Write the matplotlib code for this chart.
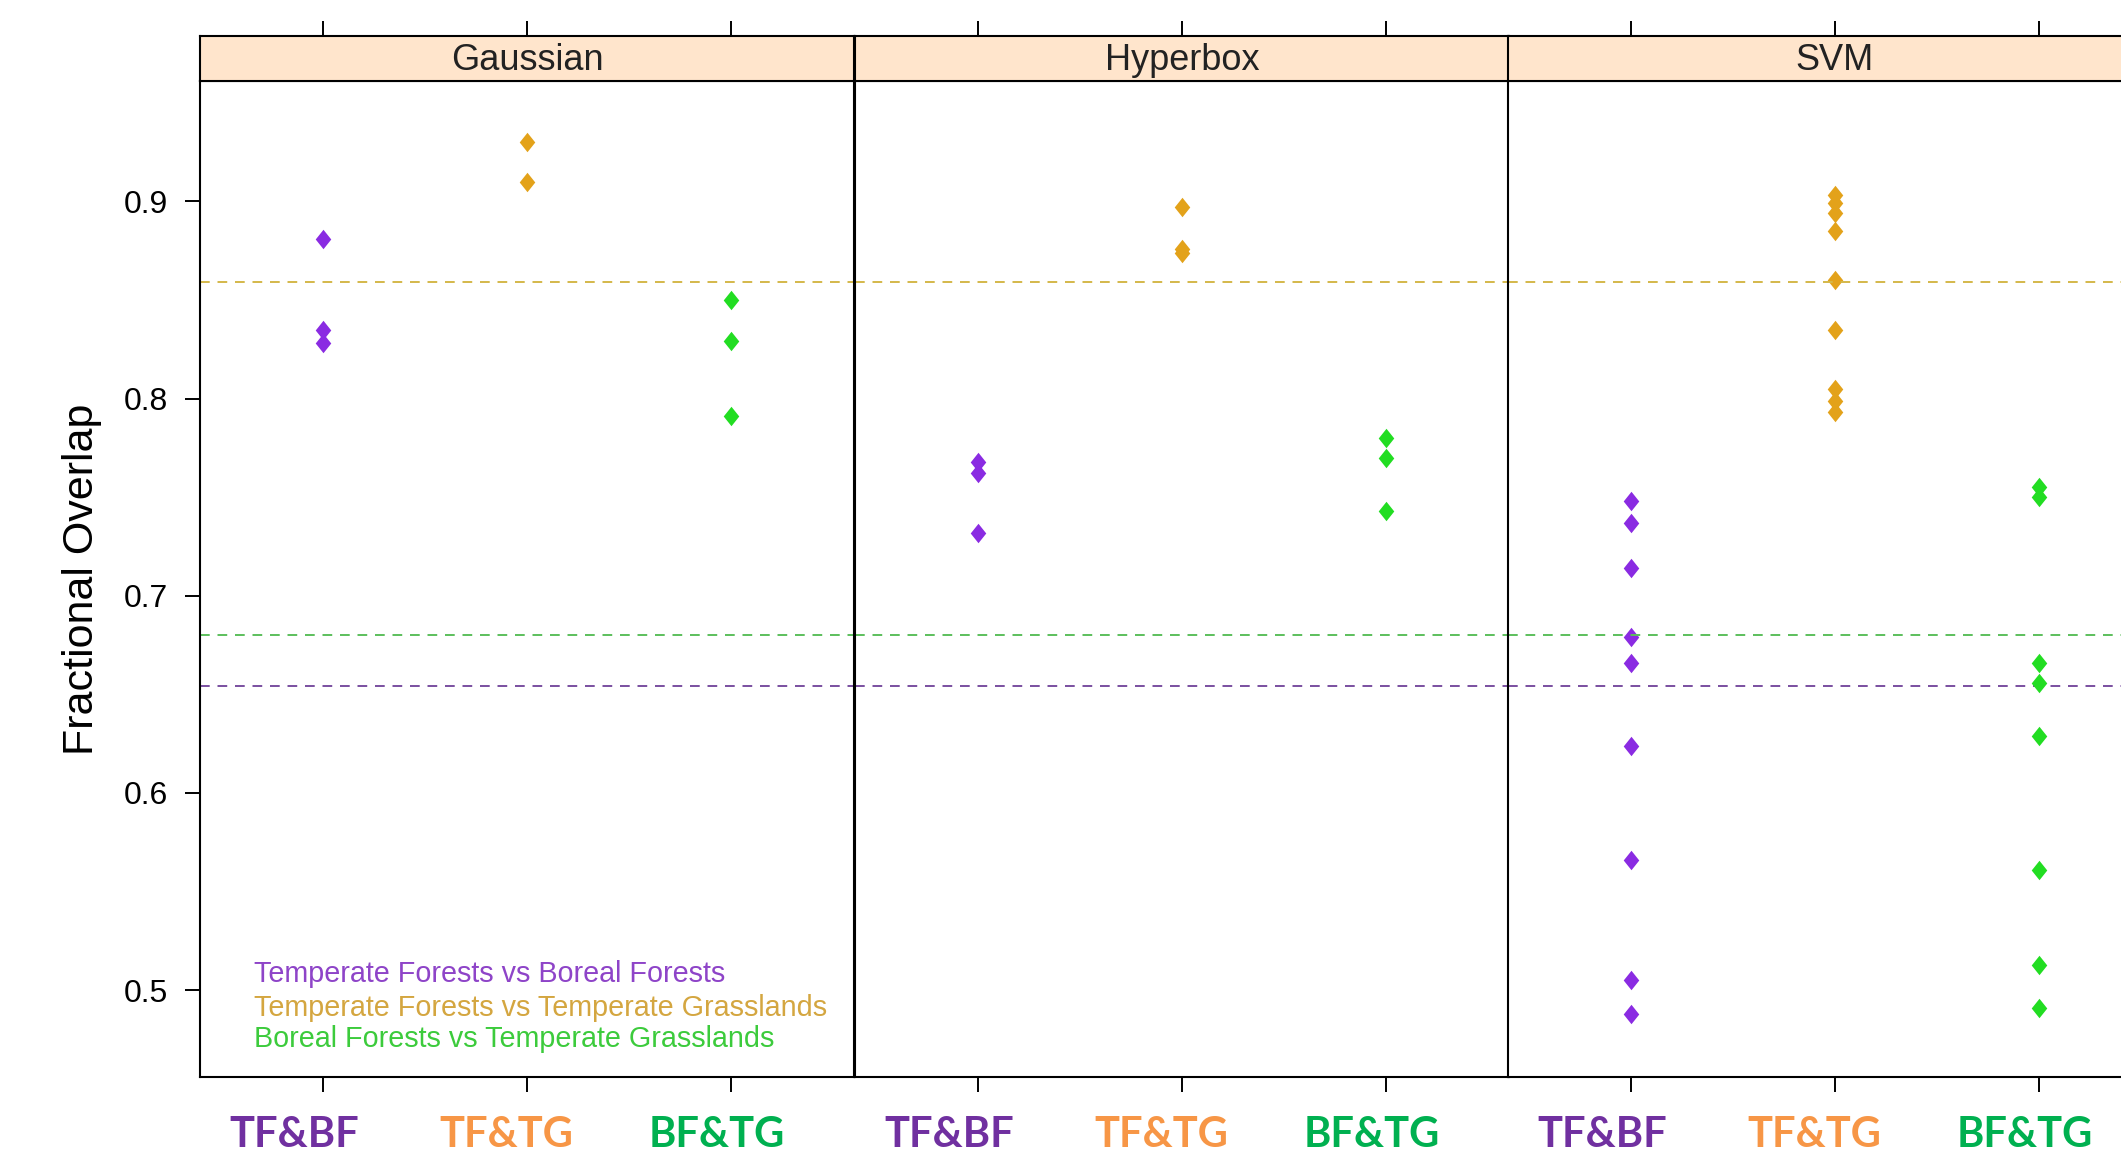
import matplotlib
matplotlib.use("Agg")
import matplotlib.pyplot as plt
import matplotlib.transforms as mtransforms
from matplotlib import font_manager

# data
methods = ["Gaussian", "Hyperbox", "SVM"]
pairs = ["TF&BF", "TF&TG", "BF&TG"]
legend_labels = ["Temperate Forests vs Boreal Forests",
                 "Temperate Forests vs Temperate Grasslands",
                 "Boreal Forests vs Temperate Grasslands"]

gauss_tfbf = [0.881, 0.835, 0.828]
gauss_tftg = [0.930, 0.910]
gauss_bftg = [0.850, 0.829, 0.791]

hyper_tfbf = [0.768, 0.762, 0.732]
hyper_tftg = [0.897, 0.876, 0.874]
hyper_bftg = [0.780, 0.770, 0.743]

svm_tfbf = [0.748, 0.737, 0.714, 0.679, 0.666, 0.624, 0.566, 0.505, 0.488]
svm_tftg = [0.903, 0.899, 0.894, 0.885, 0.860, 0.835, 0.805, 0.799, 0.793]
svm_bftg = [0.755, 0.750, 0.666, 0.656, 0.629, 0.561, 0.513, 0.491]

# reference overlap lines (TF&BF, TF&TG, BF&TG)
ref_lines = [0.654, 0.859, 0.680]

yticks = [0.5, 0.6, 0.7, 0.8, 0.9]

panel_data = [[gauss_tfbf, gauss_tftg, gauss_bftg],
              [hyper_tfbf, hyper_tftg, hyper_bftg],
              [svm_tfbf, svm_tftg, svm_bftg]]

pt_colors = ["#8A2BE2", "#E3A21A", "#22DD22"]
dash_colors = ["#7A4FA0", "#D4B84A", "#5CBF5C"]
key_colors = ["#8E44C8", "#D4A640", "#3CCB3C"]
lab_colors = ["#7030A0", "#F79646", "#00B050"]

names = {f.name for f in font_manager.fontManager.ttflist}
if "Liberation Sans Narrow" in names:
    strip_font, strip_size = "Liberation Sans Narrow", 30
else:
    strip_font, strip_size = "Liberation Sans", 26
plt.rcParams["font.family"] = ["Liberation Sans", "DejaVu Sans"]

diamond = [(0, 1), (0.8, 0), (0, -1), (-0.8, 0), (0, 1)]

W, H = 2121, 1153
fig = plt.figure(figsize=(W / 100, H / 100), dpi=100)

lefts = [200, 855, 1508]
pw = 654
ptop, pbot = 81, 1077
stop = 36
lab_shift = [-0.14, -0.1, -0.07]

for i, m in enumerate(methods):
    ax = fig.add_axes([lefts[i] / W, 1 - pbot / H, pw / W, (pbot - ptop) / H])
    for j in range(3):
        vals = panel_data[i][j]
        ax.plot([j + 1] * len(vals), vals, linestyle="none", marker=diamond,
                markersize=14, color=pt_colors[j], markeredgewidth=0)
        ax.axhline(ref_lines[j], color=dash_colors[j], lw=1.4, dashes=(5, 4))
    ax.set_xlim(0.4, 3.6)
    ax.set_ylim(0.456, 0.961)
    ax.set_xticks([1, 2, 3])
    ax.set_xticklabels([])
    ax.tick_params(axis="x", direction="out", length=11, width=1.4, color="black")
    if i == 0:
        ax.set_yticks(yticks)
        ax.set_yticklabels([str(t) for t in yticks], fontsize=23)
        ax.tick_params(axis="y", direction="out", length=11, width=1.4, pad=12)
        ax.set_ylabel("Fractional Overlap", fontsize=31, labelpad=16)
    else:
        ax.set_yticks([])
    for s in ax.spines.values():
        s.set_linewidth(1.5)

    # bold coloured pair labels under the panel
    trans = mtransforms.blended_transform_factory(ax.transData, fig.transFigure)
    for j, p in enumerate(pairs):
        ax.text(j + 1 + lab_shift[j], 1 - 1116 / H, p, transform=trans,
                ha="center", va="top", fontsize=30, fontweight="bold",
                family="Lato", color=lab_colors[j], clip_on=False)

    if i == 0:
        for j, lab in enumerate(legend_labels):
            ax.text(0.082, [0.103, 0.069, 0.038][j], lab, transform=ax.transAxes,
                    fontsize=20.7, color=key_colors[j], va="center", ha="left")

    # strip on top
    st = fig.add_axes([lefts[i] / W, 1 - ptop / H, pw / W, (ptop - stop) / H])
    st.set_facecolor("#FFE5CC")
    st.set_xlim(0.4, 3.6)
    st.set_ylim(0, 1)
    st.set_yticks([])
    st.set_xticks([1, 2, 3])
    st.xaxis.set_ticks_position("top")
    st.set_xticklabels([])
    st.tick_params(axis="x", direction="out", length=11, width=1.4)
    for s in st.spines.values():
        s.set_linewidth(1.5)
    st.text(0.5, 0.45, m, transform=st.transAxes, ha="center", va="center",
            fontsize=strip_size, family=strip_font, color="#222222")

fig.savefig("out.png", dpi=100)
